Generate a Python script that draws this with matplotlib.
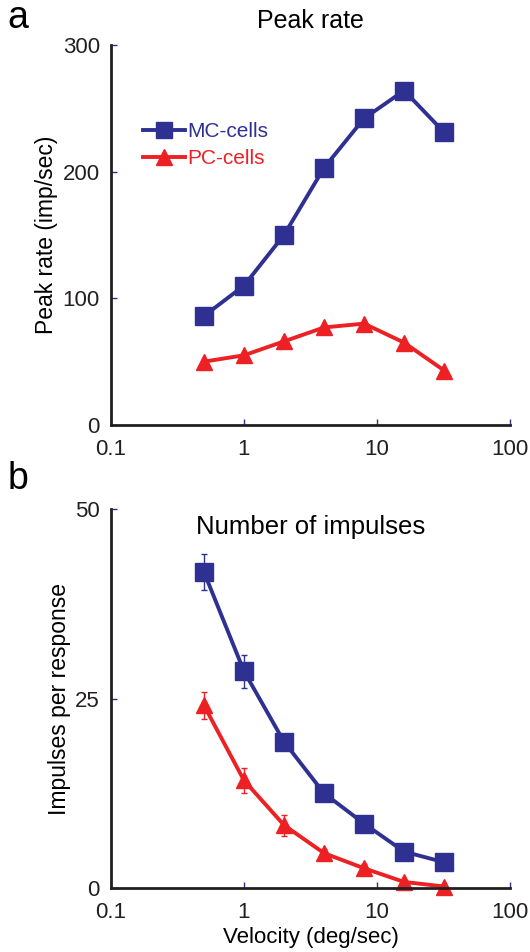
import matplotlib.pyplot as plt
import numpy as np

plt.rcParams['font.family'] = ['Liberation Sans', 'DejaVu Sans']

# velocities (deg/sec)
velocity = [0.5, 1, 2, 4, 8, 16, 32]

# peak rate (imp/sec)
mc_peak = [86, 110, 150, 203, 242, 264, 231]
pc_peak = [50, 55, 66, 77, 80, 65, 43]

# impulses per response
mc_imp = [41.7, 28.6, 19.3, 12.5, 8.5, 4.8, 3.4]
mc_err = [2.4, 2.2, 1.0, 0.6, 0.5, 0.4, 0.3]
pc_imp = [24.1, 14.2, 8.3, 4.6, 2.6, 0.8, 0.2]
pc_err = [1.8, 1.6, 1.4, 0.5, 0.6, 0.3, 0.2]

blue = '#2E3192'
red = '#ED2024'
spine_col = '#231F20'

fig = plt.figure(figsize=(5.3, 9.52), dpi=100)
ax1 = fig.add_axes([0.2094, 0.5536, 0.7528, 0.3992])
ax2 = fig.add_axes([0.2094, 0.0672, 0.7528, 0.3981])


def style(ax, ymax, yticks):
    ax.set_xscale('log')
    ax.set_xlim(0.1, 100)
    ax.set_ylim(0, ymax)
    ax.set_xticks([0.1, 1, 10, 100])
    ax.set_xticklabels(['0.1', '1', '10', '100'])
    ax.minorticks_off()
    ax.set_yticks(yticks)
    for s in ['top', 'right']:
        ax.spines[s].set_visible(False)
    for s in ['left', 'bottom']:
        ax.spines[s].set_linewidth(2.0)
        ax.spines[s].set_color(spine_col)
    ax.tick_params(direction='in', length=4, width=1, color=blue,
                   labelsize=16, labelcolor='#231F20', pad=8)
    ax.tick_params(axis='x', pad=10)


# panel a
ax1.plot(velocity, mc_peak, color=blue, lw=2.8, marker='s', ms=13,
         label='MC-cells', clip_on=False)
ax1.plot(velocity, pc_peak, color=red, lw=2.8, marker='^', ms=12,
         label='PC-cells', clip_on=False)
style(ax1, 300, [0, 100, 200, 300])
ax1.set_ylabel('Peak rate (imp/sec)', fontsize=16.5, labelpad=3)
ax1.set_title('Peak rate', fontsize=18, pad=12)
leg = ax1.legend(loc='upper left', bbox_to_anchor=(0.055, 0.825), frameon=False,
                 fontsize=15, handlelength=2.0, handletextpad=0.1,
                 labelspacing=0.4, borderpad=0, labelcolor='linecolor')
for h in leg.legend_handles:
    h.set_markersize(11)
ax1.text(-0.26, 1.07, 'a', transform=ax1.transAxes, fontsize=27,
         ha='left', va='center')

# panel b
ax2.errorbar(velocity, mc_imp, yerr=mc_err, color=blue, lw=2.8, marker='s',
             ms=13, elinewidth=1, capsize=2.5, capthick=1, clip_on=False)
ax2.errorbar(velocity, pc_imp, yerr=pc_err, color=red, lw=2.8, marker='^',
             ms=12, elinewidth=1, capsize=2.5, capthick=1, clip_on=False)
style(ax2, 50, [0, 25, 50])
ax2.set_ylabel('Impulses per response', fontsize=16.5, labelpad=3)
ax2.set_xlabel('Velocity (deg/sec)', fontsize=16, labelpad=3)
ax2.text(0.5, 0.985, 'Number of impulses', transform=ax2.transAxes,
         fontsize=18.5, ha='center', va='top')
ax2.text(-0.26, 1.08, 'b', transform=ax2.transAxes, fontsize=27,
         ha='left', va='center')

fig.savefig('out.png', dpi=100)
